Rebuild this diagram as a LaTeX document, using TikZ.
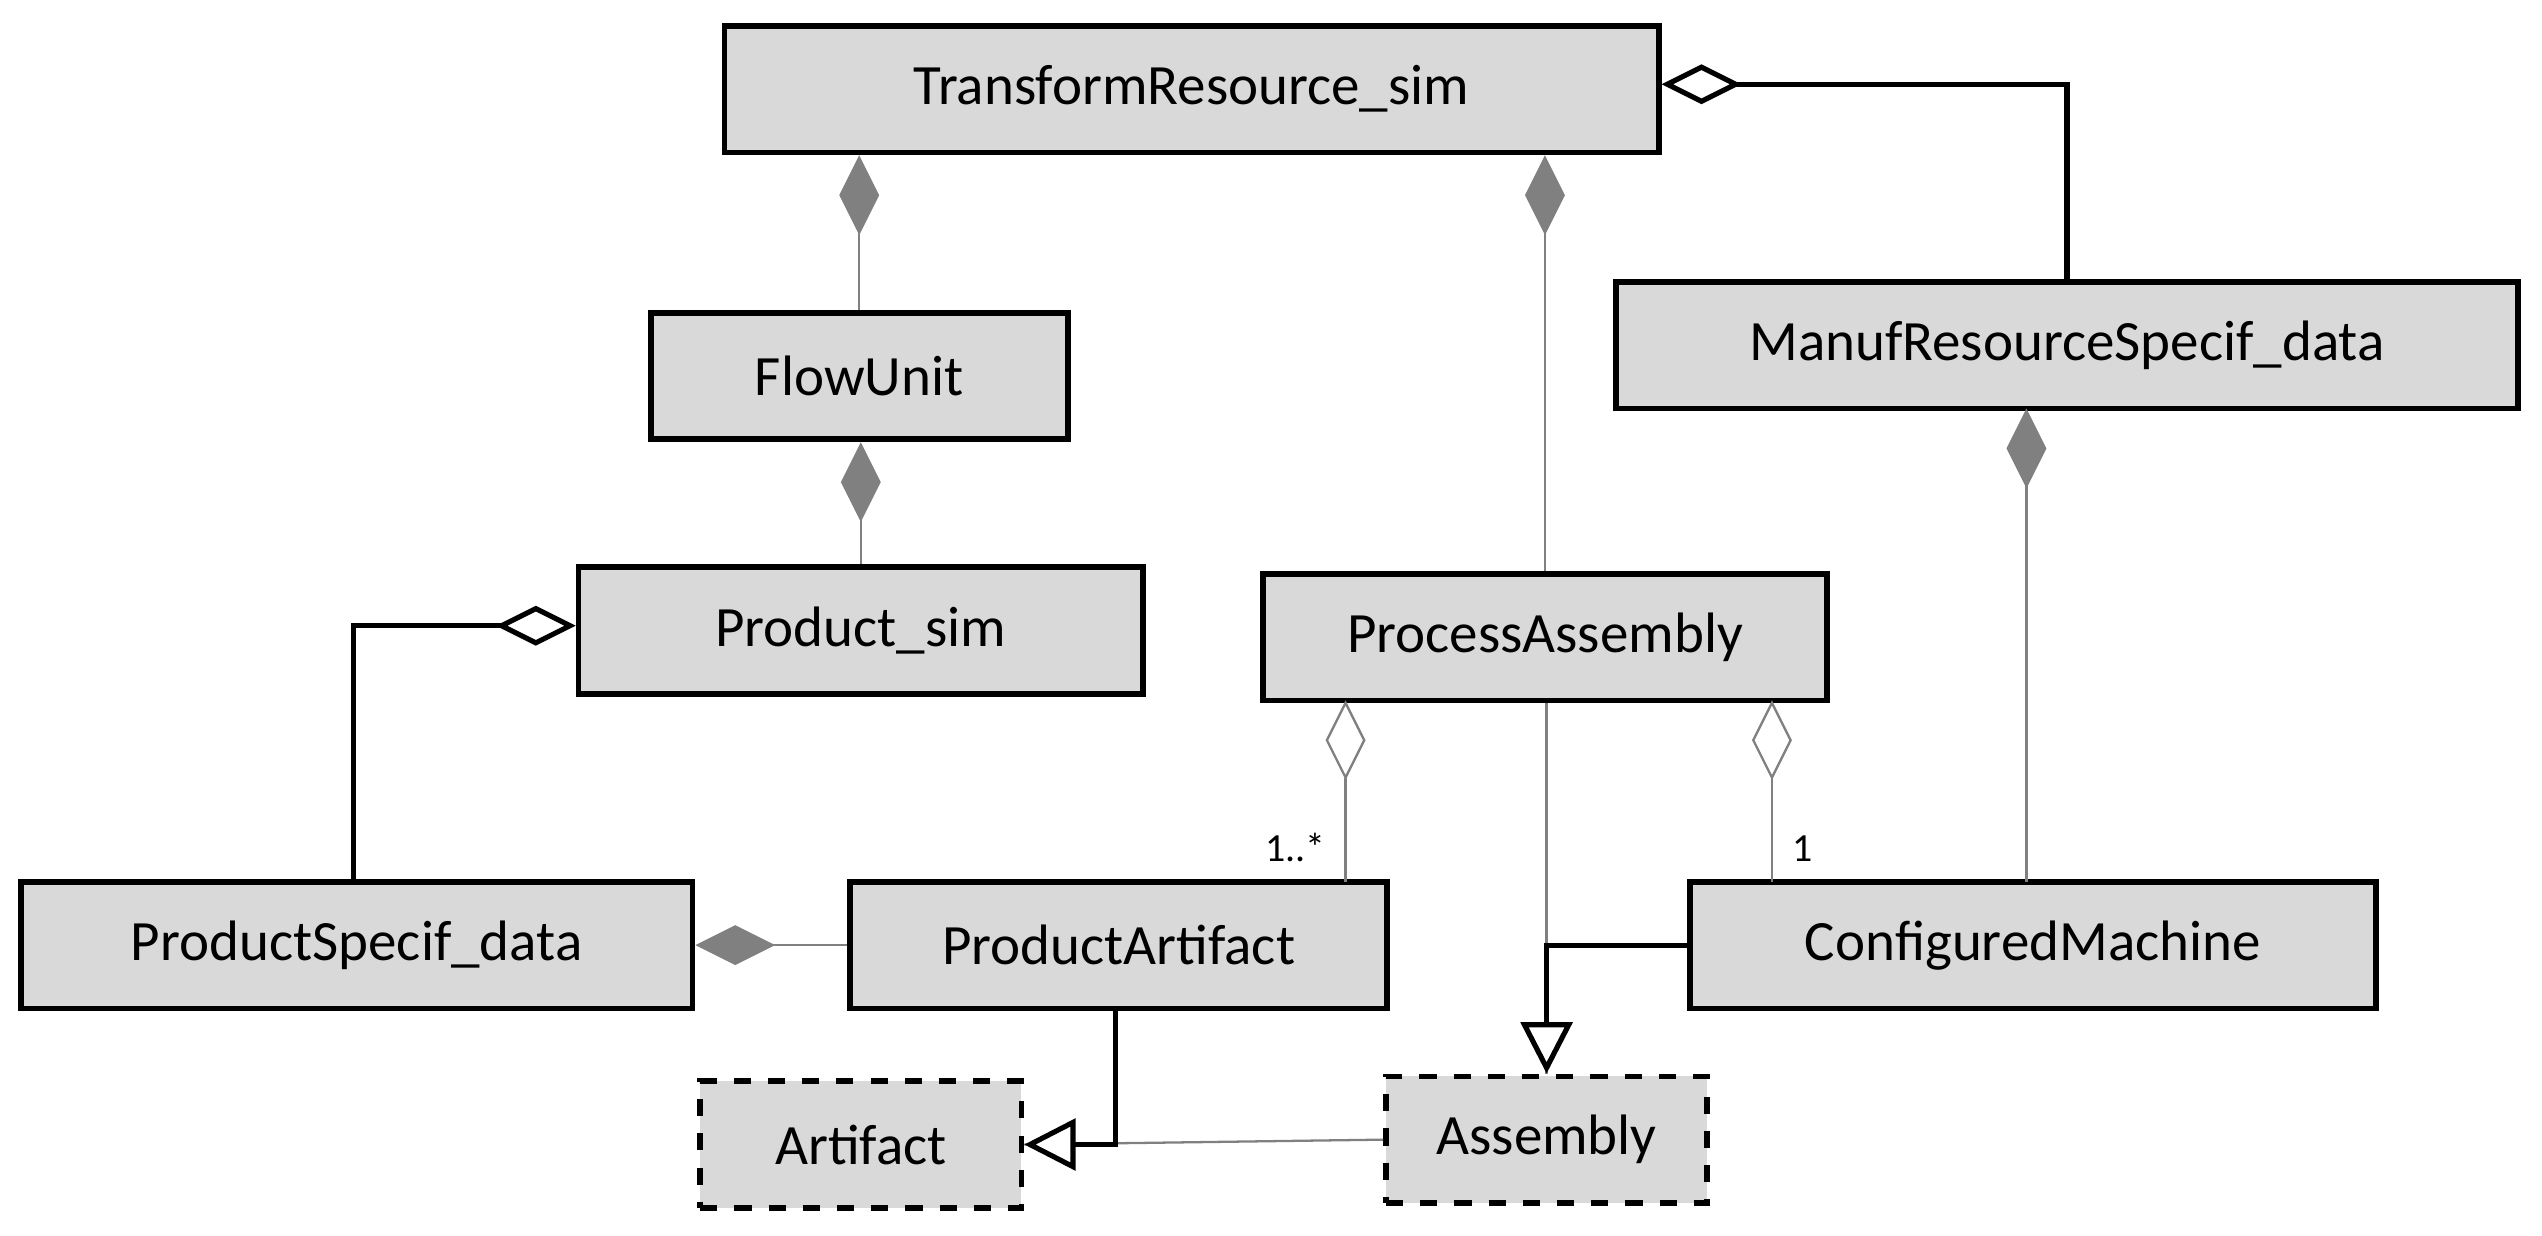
\documentclass[tikz,border=0pt]{standalone}
\usepackage{fontspec}
\setmainfont{Carlito}
\usetikzlibrary{arrows.meta}
\begin{document}
\begin{tikzpicture}
	[x=0.01cm, y=-0.01cm,
	cls/.style={draw, line width=1pt, fill=black!15, minimum height=0.78cm,
		inner sep=0pt, font=\fontsize{10}{12}\selectfont},
	abs/.style={cls, dashed},
	assoc/.style={gray, line width=0.4pt},
	link/.style={black, line width=0.9pt},
	comp/.style={{Diamond[length=14pt, width=7pt]}-},
	aggr/.style={{Diamond[open, length=14pt, width=7pt, fill=white]}-},
	gen/.style={-{Triangle[open, length=9pt, width=9pt, fill=white]}}]
	
	\useasboundingbox (0, 0) rectangle (1568, 762);
	
	% Draw classes
	\node[cls, minimum width=5.76cm] (tr) at (735, 55) {TransformResource\_sim};
	\node[cls, minimum width=2.57cm] (fu) at (530, 232) {FlowUnit};
	\node[cls, minimum width=5.56cm] (mrs) at (1275, 213) {ManufResourceSpecif\_data};
	\node[cls, minimum width=3.48cm] (ps) at (531, 389) {Product\_sim};
	\node[cls, minimum width=3.48cm] (pa) at (953, 393) {ProcessAssembly};
	\node[cls, minimum width=4.14cm] (psd) at (220, 583) {ProductSpecif\_data};
	\node[cls, minimum width=3.31cm] (part) at (690, 583) {ProductArtifact};
	\node[cls, minimum width=4.23cm] (cm) at (1254, 583) {ConfiguredMachine};
	\node[abs, minimum width=1.98cm] (art) at (531, 706) {Artifact};
	\node[abs, minimum width=1.98cm] (asm) at (954, 703) {Assembly};
	
	% Draw compositions
	\draw[assoc, comp] (fu.north |- tr.south) -- (fu.north);
	\draw[assoc, comp] (pa.north |- tr.south) -- (pa.north);
	\draw[assoc, comp] (ps.north |- fu.south) -- (ps.north);
	\draw[assoc, comp] (psd.east) -- (part.west);
	\draw[assoc, comp] (1250, 252) -- (1250, 544);
	
	% Draw aggregations
	\coordinate (mrsTurn) at (mrs.north |- 0, 52);
	\draw[link, aggr] (tr.east |- mrsTurn) -- (mrsTurn) -- (mrs.north);
	\coordinate (psdTurn) at (218, 386);
	\draw[link, aggr] (ps.west |- psdTurn) -- (psdTurn) -- (psd.north -| psdTurn);
	\draw[assoc, aggr] (830, 432) -- (830, 544) node[pos=1, above left, black, font=\scriptsize] {1..*};
	\draw[assoc, aggr] (1093, 432) -- (1093, 544) node[pos=1, above right, black, font=\scriptsize] {1};
	
	% Draw generalizations
	\draw[assoc] (asm.west) -- (art.east);
	\draw[link, gen] (part.south -| 688, 0) -- (688, 706) -- (art.east);
	\draw[assoc] (asm.north |- pa.south) -- (asm.north);
	\draw[link, gen] (cm.west) -- (cm.west -| asm.north) -- (asm.north);
	
\end{tikzpicture}
\end{document}
